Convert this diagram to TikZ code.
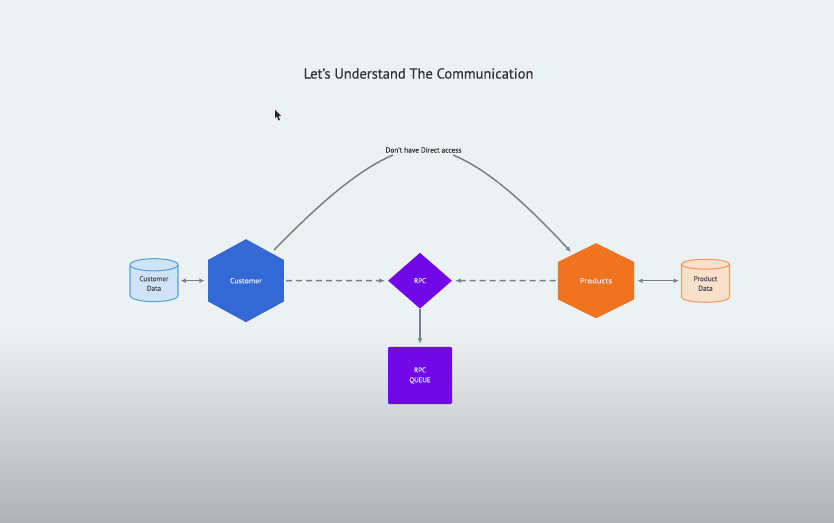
\documentclass[tikz,border=0pt]{standalone}
\usepackage{fontspec}
\setmainfont{PT Sans}
\usetikzlibrary{shapes.geometric,arrows.meta}
\definecolor{pageTop}{RGB}{236,241,243}
\definecolor{pageLow}{RGB}{176,179,181}
\definecolor{linkGray}{RGB}{118,128,136}
\definecolor{textDark}{RGB}{48,52,55}
\definecolor{custBlue}{RGB}{52,104,212}
\definecolor{custEdge}{RGB}{90,160,225}
\definecolor{custFill}{RGB}{206,227,245}
\definecolor{rpcPurple}{RGB}{112,8,232}
\definecolor{prodOrange}{RGB}{240,116,32}
\definecolor{prodEdge}{RGB}{238,155,100}
\definecolor{prodFill}{RGB}{251,224,204}
\definecolor{lightText}{RGB}{225,235,250}
\newcommand{\heavytext}{\addfontfeature{FakeBold=0.2}}
\tikzset{
  hexnode/.style={regular polygon,regular polygon sides=6,shape border rotate=30,minimum size=83*0.75pt,inner sep=0pt,xscale=1.055,text=lightText,font=\fontsize{5.6}{7}\selectfont\heavytext},
  dbnode/.style={cylinder,shape border rotate=90,aspect=0.42,minimum width=48*0.75pt,minimum height=43*0.75pt,inner sep=0pt,cylinder uses custom fill,line width=0.8pt,align=center,text=textDark!85,font=\fontsize{5.4}{7.2}\selectfont\heavytext},
  link/.style={draw=linkGray,line width=1.1pt},
  dashlink/.style={link,dash pattern=on 4.5pt off 3pt,-{Latex[length=4pt,width=3.5pt]}},
  twolink/.style={link,{Latex[length=4pt,width=3.5pt]}-{Latex[length=4pt,width=3.5pt]}},
  onelink/.style={link,-{Latex[length=4pt,width=3.5pt]}}
}
\begin{document}
\begin{tikzpicture}[x=0.75pt,y=0.75pt,yscale=-1,xscale=1]
\useasboundingbox (0,0) rectangle (834,523);
% page
\fill [pageTop] (0,0) rectangle (834,330);
\shade [top color=pageTop,bottom color=pageLow] (0,330) rectangle (834,523);
% pointer
\fill [black!85] (275,110) -- (275,118) -- (277,116.5) -- (278.5,120.5) -- (280,120) -- (278.5,116) -- (281,116) -- cycle;

% Title
\node (title) at (418.5,73.5) [text=textDark,font=\fontsize{10.85}{13}\selectfont\addfontfeature{FakeBold=0.5}] {Let's Understand The Communication};
\node (access) at (423.5,150) [inner sep=0.75pt,text=textDark,font=\fontsize{5.5}{7}\selectfont\heavytext] {Don't have Direct access};

% Services
\node (customer) at (246,280.7) [hexnode,fill=custBlue] {Customer};
\node (products) at (596,280.7) [hexnode,minimum size=75*0.75pt,xscale=1.11,fill=prodOrange] {Products};
\node (customerdb) at (154,283.5) [dbnode,draw=custEdge,cylinder body fill=custFill,cylinder end fill=custFill] {Customer\\Data};
\node (productdb) at (705.5,283.5) [dbnode,draw=prodEdge,cylinder body fill=prodFill,cylinder end fill=prodFill] {Product\\Data};
\node (rpc) at (420,280.7) [diamond,aspect=1.14,minimum width=64*0.75pt,minimum height=56*0.75pt,inner sep=0pt,fill=rpcPurple,text=lightText,font=\fontsize{5.2}{7}\selectfont\heavytext] {RPC};
\node (queue) at (420,375.5) [rectangle,rounded corners=0.8pt,minimum width=64*0.75pt,minimum height=57*0.75pt,inner sep=0pt,fill=rpcPurple,align=center,text=lightText,font=\fontsize{5.2}{7.4}\selectfont\heavytext] {RPC\\QUEUE};

% Free ends of the arc
\coordinate (arcstart) at (274,250);
\coordinate (arcend) at (571,252);
\coordinate (accessleft) at (393,155);
\coordinate (accessright) at (453,155);

% Connection
\draw [link] (arcstart) .. controls (320,203) and (358,170) .. (accessleft);
\draw [onelink] (accessright) .. controls (490,170) and (530,208) .. (arcend);
\draw [twolink] ([xshift=2*0.75pt]customerdb.east |- customer.west) -- ([xshift=-3*0.75pt]customer.west);
\draw [twolink] ([xshift=3*0.75pt]products.east) -- ([xshift=-2*0.75pt]productdb.west |- products.east);
\draw [dashlink] ([xshift=2*0.75pt]customer.east) -- ([xshift=-3*0.75pt]rpc.west);
\draw [dashlink] ([xshift=-2*0.75pt]products.west) -- ([xshift=3*0.75pt]rpc.east);
\draw [onelink,line width=1.4pt] (rpc.south) -- ([yshift=-3*0.75pt]queue.north);
\end{tikzpicture}
\end{document}
